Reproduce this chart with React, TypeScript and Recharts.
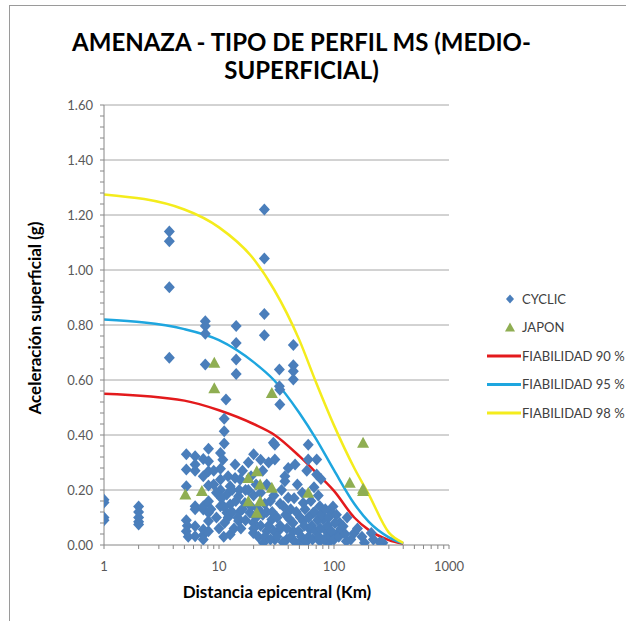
import { ComposedChart, Scatter, Line, XAxis, YAxis, ReferenceLine } from "recharts";

// ─── datos ───
// CYCLIC: [distancia (km), aceleración (g)]
const cyclic: [number, number][] = [
  [1, 0.165], [1, 0.155], [1, 0.1], [1, 0.09],
  [2, 0.14], [2, 0.12], [2, 0.1], [2, 0.085], [2, 0.075],
  [3.7, 1.14], [3.7, 1.105], [3.7, 0.937], [3.7, 0.681],
  [5.2, 0.33], [5.2, 0.275], [5.2, 0.214], [5.2, 0.09], [5.3, 0.07], [5.2, 0.05], [5.4, 0.03],
  [6.2, 0.323], [6.2, 0.293], [6.2, 0.27], [6.2, 0.141], [6.2, 0.13], [6.2, 0.068], [6.2, 0.032],
  [7.3, 0.313], [7.3, 0.25], [7.3, 0.141], [7.3, 0.129], [7.3, 0.056], [7.3, 0.036], [7.3, 0.02],
  [7.6, 0.814], [7.6, 0.796], [7.6, 0.768], [7.6, 0.656],
  [8.1, 0.35], [8.1, 0.305], [8.1, 0.268], [8.1, 0.216], [8.1, 0.159], [8.1, 0.117], [8.1, 0.087], [8.1, 0.05],
  [10.3, 0.335], [10.3, 0.277], [10.3, 0.238], [10.3, 0.2], [10.3, 0.141],
  [11.5, 0.529], [11.1, 0.459], [11.1, 0.414], [11.1, 0.369], [11.7, 0.184], [11.7, 0.117], [11.2, 0.081],
  [12.5, 0.214], [12.5, 0.147], [12.5, 0.038],
  [13.8, 0.293], [13.8, 0.244], [15.3, 0.238], [14.8, 0.177], [15.3, 0.123], [14.8, 0.087],
  [14.1, 0.796], [14.1, 0.735], [14.1, 0.675], [14.1, 0.622],
  [16.8, 0.153], [18.6, 0.117], [19.9, 0.081], [19.9, 0.044],
  [24.8, 1.22], [24.8, 1.042], [24.8, 0.84], [24.8, 0.763], [26, 0.05], [24.3, 0.008],
  [28.8, 0.093], [30.6, 0.02], [29.7, 0.372], [30.6, 0.365], [30.6, 0.311],
  [33.5, 0.638], [33.5, 0.577], [33.8, 0.565], [33.8, 0.511],
  [37.4, 0.25], [37.4, 0.232], [40, 0.172], [36.3, 0.141], [41.3, 0.093], [38.8, 0.02], [33.8, 0.056],
  [44.3, 0.727], [44.3, 0.654], [44.3, 0.632], [44.3, 0.602], [45.9, 0.293],
  [44.3, 0.05], [54, 0.153], [54, 0.087], [54, 0.02], [48, 0.002],
  [59.7, 0.365], [59.7, 0.311], [66, 0.117], [61.8, 0.056],
  [70.7, 0.311], [70.7, 0.256], [75.3, 0.141], [75.3, 0.014],
  [80.4, 0.093], [86, 0.05], [90, 0.008],
  [95.3, 0.117], [112, 0.081], [105, 0.038],
  [120, 0.068], [150, 0.044], [128, 0.014],
  [184, 0.008], [211, 0.044], [266, 0.008],
  [9, 0.27], [9.5, 0.19], [9.5, 0.1], [10, 0.06], [10.5, 0.17], [11, 0.14], [11, 0.03], [12, 0.1],
  [12, 0.25], [13, 0.12], [13, 0.2], [13.5, 0.06], [14, 0.16], [14.5, 0.1], [15, 0.2], [15.5, 0.06],
  [16, 0.13], [16, 0.27], [17, 0.09], [17, 0.2], [9, 0.22], [8.5, 0.13], [10.8, 0.31],
  [18, 0.3], [18, 0.2], [19, 0.14], [19, 0.25], [20, 0.06], [20, 0.18], [21, 0.1], [21, 0.22],
  [22, 0.03], [22, 0.13], [23, 0.07], [23, 0.19], [24, 0.11], [24, 0.27], [25, 0.15], [25, 0.03],
  [26, 0.22], [26, 0.12], [27, 0.07], [27, 0.3], [28, 0.16], [28, 0.02], [29, 0.12], [30, 0.05],
  [30, 0.18], [20, 0.33], [23, 0.31],
  [32, 0.1], [32, 0.03], [34, 0.15], [34, 0.07], [35, 0.2], [36, 0.01], [38, 0.11], [39, 0.06],
  [40, 0.28], [42, 0.13], [42, 0.03], [44, 0.08], [45, 0.17], [46, 0.01], [47, 0.12], [48, 0.22],
  [49, 0.05], [51, 0.1], [52, 0.03], [53, 0.19], [55, 0.07], [56, 0.13], [57, 0.01], [58, 0.27],
  [60, 0.1], [60, 0.03],
  [63, 0.16], [64, 0.07], [65, 0.02], [67, 0.21], [68, 0.12], [69, 0.05], [72, 0.09], [73, 0.18],
  [74, 0.03], [76, 0.06], [77, 0.24], [78, 0.11], [82, 0.02], [84, 0.13], [88, 0.07], [90, 0.1],
  [92, 0.03], [95, 0.05], [98, 0.14], [100, 0.02], [102, 0.08], [105, 0.11], [110, 0.03], [115, 0.06],
  [125, 0.04], [130, 0.1], [140, 0.02], [160, 0.06], [175, 0.03], [220, 0.02], [250, 0.01],
];

// JAPON
const japon: [number, number][] = [
  [5.1, 0.184], [7.1, 0.196], [9.1, 0.663], [9.1, 0.57], [18, 0.244], [21.3, 0.268],
  [22.8, 0.22], [28.8, 0.208], [18, 0.159], [22.8, 0.159], [21.3, 0.117], [28.8, 0.553],
  [59.7, 0.19], [137, 0.226], [179, 0.372], [179, 0.196], [179, 0.205],
];

// curvas de fiabilidad
const dist = [1, 5, 10, 20, 30, 50, 70, 100, 150, 200, 300, 400];
const fiab90 = [0.55, 0.525, 0.49, 0.44, 0.402, 0.323, 0.263, 0.197, 0.1, 0.055, 0.018, 0.004];
const fiab95 = [0.82, 0.785, 0.745, 0.665, 0.6, 0.48, 0.385, 0.272, 0.15, 0.085, 0.028, 0.006];
const fiab98 = [1.275, 1.22, 1.155, 1.04, 0.93, 0.745, 0.59, 0.435, 0.28, 0.185, 0.045, 0.008];

const xTicks = [1, 2, 3, 4, 5, 6, 7, 8, 9, 10, 20, 30, 40, 50, 60, 70, 80, 90, 100, 200, 300, 400, 500, 600, 700, 800, 900, 1000];
const xLabels = [1, 10, 100, 1000];
const yMajor = [0.2, 0.4, 0.6, 0.8, 1.0, 1.2, 1.4, 1.6];
const yMinor = Array.from({ length: 41 }, (_, i) => Math.round(i * 4) / 100);

const FONT = "Lato, 'Open Sans', sans-serif";
const BLUE = "#4a7ebb";
const GREEN = "#8fae52";
const RED = "#e31a1c";
const CYAN = "#1ea6df";
const YELLOW = "#f4ec1c";

const toXY = (arr: [number, number][]) => arr.map(([x, y]) => ({ x, y }));
const lineData = (vals: number[]) => dist.map((x, i) => ({ x, y: vals[i] }));

const Diamond = (p: any) => {
  const { cx, cy } = p;
  return <polygon points={`${cx},${cy - 6} ${cx + 5.5},${cy} ${cx},${cy + 6} ${cx - 5.5},${cy}`} fill={BLUE} />;
};
const Triangle = (p: any) => {
  const { cx, cy } = p;
  return <polygon points={`${cx},${cy - 6} ${cx + 6},${cy + 5} ${cx - 6},${cy + 5}`} fill={GREEN} />;
};

const legendItems = [
  { name: "CYCLIC", kind: "diamond", color: BLUE },
  { name: "JAPON", kind: "triangle", color: GREEN },
  { name: "FIABILIDAD 90 %", kind: "line", color: RED },
  { name: "FIABILIDAD 95 %", kind: "line", color: CYAN },
  { name: "FIABILIDAD 98 %", kind: "line", color: YELLOW },
];

function LegendBox() {
  return (
    <svg width={146} height={140} style={{ position: "absolute", left: 487, top: 288 }}>
      {legendItems.map((it, i) => {
        const cy = 11 + i * 28.5;
        return (
          <g key={it.name}>
            {it.kind === "diamond" && (
              <polygon points={`23,${cy - 4.5} 27,${cy} 23,${cy + 4.5} 19,${cy}`} fill={it.color} />
            )}
            {it.kind === "triangle" && (
              <polygon points={`23,${cy - 5} 28,${cy + 4} 18,${cy + 4}`} fill={it.color} />
            )}
            {it.kind === "line" && <line x1={0} x2={34} y1={cy} y2={cy} stroke={it.color} strokeWidth={3} />}
            <text x={35} y={cy + 4.5} fontSize={13} fill="#404040" fontFamily={FONT}>
              {it.name}
            </text>
          </g>
        );
      })}
    </svg>
  );
}

export default function App() {
  return (
    <div style={{ position: "absolute", left: 0, top: 0, width: 633, height: 621, background: "#fff", fontFamily: FONT }}>
      <div style={{ position: "absolute", left: 9, top: 5, width: 616, height: 616, borderTop: "1px solid #9a9a9a", borderLeft: "1px solid #9a9a9a" }} />
      <div style={{ position: "absolute", left: 0, top: 28, width: 603, textAlign: "center", fontSize: 24, fontWeight: 700, lineHeight: "28px", color: "#000" }}>
        AMENAZA - TIPO DE PERFIL MS (MEDIO-
        <br />
        SUPERFICIAL)
      </div>
      <div style={{ position: "absolute", left: 35 - 150, top: 318 - 12, width: 300, height: 24, lineHeight: "24px", textAlign: "center", transform: "rotate(-90deg)", fontSize: 17, fontWeight: 700, color: "#000" }}>
        Aceleración superficial (g)
      </div>
      <div style={{ position: "absolute", left: 277 - 150, top: 592 - 12, width: 300, lineHeight: "24px", textAlign: "center", fontSize: 17, fontWeight: 700, color: "#000" }}>
        Distancia epicentral (Km)
      </div>
      <div style={{ position: "absolute", left: 0, top: 0 }}>
        <ComposedChart width={633} height={621} margin={{ top: 105, right: 184, left: 44, bottom: 46 }}>
          {yMajor.map((v) => (
            <ReferenceLine key={v} y={v} stroke="#a6a6a6" strokeWidth={1} ifOverflow="visible" />
          ))}
          <XAxis
            dataKey="x"
            type="number"
            scale="log"
            domain={[1, 1000]}
            allowDataOverflow
            ticks={xTicks}
            interval={0}
            tickFormatter={(v: number) => (xLabels.includes(v) ? String(v) : "")}
            tick={{ fontSize: 13, fill: "#595959", fontFamily: FONT }}
            tickSize={4}
            tickMargin={13}
            tickLine={{ stroke: "#868686" }}
            axisLine={{ stroke: "#868686" }}
            height={30}
          />
          <YAxis
            type="number"
            domain={[0, 1.6]}
            allowDataOverflow
            ticks={yMinor}
            interval={0}
            tickFormatter={(v: number) => (Math.abs(v / 0.2 - Math.round(v / 0.2)) < 1e-6 ? v.toFixed(2) : "")}
            tick={{ fontSize: 13, fill: "#595959", fontFamily: FONT }}
            tickSize={4}
            tickMargin={7}
            tickLine={{ stroke: "#868686" }}
            axisLine={{ stroke: "#868686" }}
            width={60}
          />
          <Scatter name="CYCLIC" data={toXY(cyclic)} dataKey="y" shape={Diamond} isAnimationActive={false} />
          <Scatter name="JAPON" data={toXY(japon)} dataKey="y" shape={Triangle} isAnimationActive={false} />
          <Line name="FIABILIDAD 90 %" data={lineData(fiab90)} dataKey="y" type="monotone" stroke={RED} strokeWidth={2.5} dot={false} isAnimationActive={false} />
          <Line name="FIABILIDAD 95 %" data={lineData(fiab95)} dataKey="y" type="monotone" stroke={CYAN} strokeWidth={2.5} dot={false} isAnimationActive={false} />
          <Line name="FIABILIDAD 98 %" data={lineData(fiab98)} dataKey="y" type="monotone" stroke={YELLOW} strokeWidth={2.5} dot={false} isAnimationActive={false} />
        </ComposedChart>
      </div>
      <LegendBox />
    </div>
  );
}
